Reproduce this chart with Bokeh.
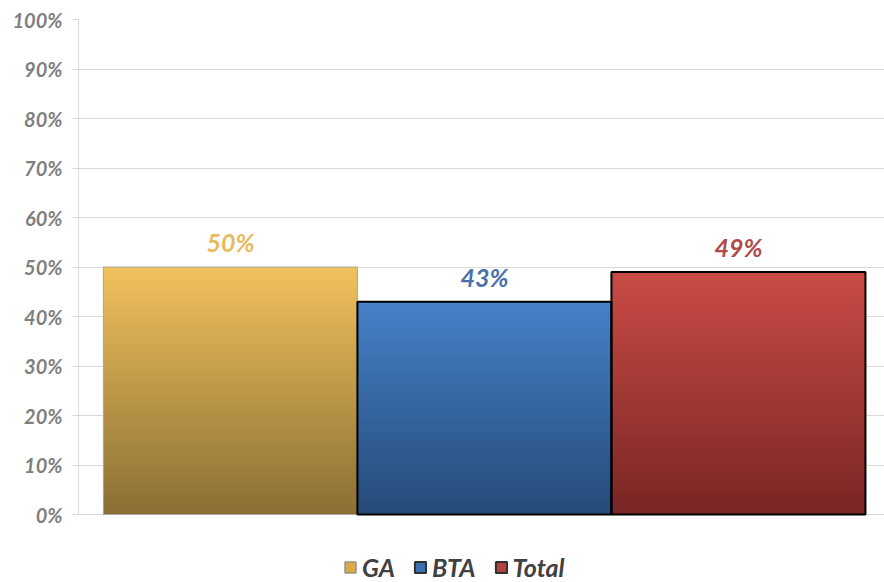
from bokeh.plotting import figure
from bokeh.models import ColumnDataSource, Legend, LegendItem, PrintfTickFormatter, FixedTicker
from bokeh.core.properties import value
from bokeh.embed import file_html
from bokeh.resources import INLINE

# ---- data ----
series = ["GA", "BTA", "Total"]
values = [50, 43, 49]
label_texts = ["50%", "43%", "49%"]
y_ticks = [0, 10, 20, 30, 40, 50, 60, 70, 80, 90, 100]

# ---- style ----
top_colors = [(241, 193, 92), (70, 129, 200), (202, 75, 70)]
bottom_colors = [(138, 111, 52), (37, 74, 120), (120, 38, 36)]
mid_colors = ["#D9A94C", "#3A6FB0", "#B5403C"]
outline_colors = ["#A6A6A6", "#000000", "#000000"]
outline_widths = [1, 2, 2]
label_colors = ["#E8BA5E", "#4A72A8", "#B04A48"]
FONT = "Lato"
X0, X1 = -0.598, 2.575
Y0 = -68 / 4.95   # extra room below 0 for the legend

p = figure(frame_width=806, frame_height=563, output_backend="svg", toolbar_location=None,
           x_range=(X0, X1), y_range=(Y0, 100),
           min_border_left=78, min_border_right=0, min_border_top=19, min_border_bottom=0)
p.outline_line_color = None
p.background_fill_color = "white"

xs = list(range(len(series)))

# gradient bars built as thin overlapping slices
n = 90
sx, sb, st, sc = [], [], [], []
for i, v in enumerate(values):
    for k in range(n):
        t = (k + 0.5) / n
        c = tuple(int(round(bottom_colors[i][j] + (top_colors[i][j] - bottom_colors[i][j]) * t)) for j in range(3))
        sx.append(xs[i])
        sb.append(v * k / n)
        st.append(min(v, v * (k + 1.8) / n))
        sc.append("#%02x%02x%02x" % c)
p.vbar(x=sx, bottom=sb, top=st, width=1.0, fill_color=sc, line_color=None)

# outlines
p.vbar(x=xs, top=values, width=1.0, fill_color=None,
       line_color=outline_colors, line_width=outline_widths)

# value labels
p.text(x=xs, y=values, text=label_texts, text_color=label_colors,
       text_font=value(FONT), text_font_style="bold italic", text_font_size="25px",
       text_align="center", text_baseline="middle", y_offset=-25)

# axes
p.xaxis.visible = False
p.xgrid.visible = False

p.yaxis.ticker = FixedTicker(ticks=y_ticks)
p.yaxis.bounds = (0, 100)
p.yaxis.formatter = PrintfTickFormatter(format="%d%%")
p.yaxis.major_label_text_font = FONT
p.yaxis.major_label_text_font_style = "bold italic"
p.yaxis.major_label_text_font_size = "20px"
p.yaxis.major_label_text_color = "#7F7F7F"
p.yaxis.axis_line_color = "#D9D9D9"
p.yaxis.major_tick_line_color = "#D9D9D9"
p.yaxis.major_tick_out = 6
p.yaxis.major_tick_in = 0
p.yaxis.minor_tick_line_color = None
p.yaxis.major_label_standoff = 10
p.ygrid.grid_line_color = "#D9D9D9"

# legend (proxy renderers with a single non-drawn quad)
items = []
nan = float("nan")
for i, s in enumerate(series):
    src = ColumnDataSource(data=dict(l=[nan], r=[nan], b=[nan], t=[nan]))
    r = p.quad(left="l", right="r", bottom="b", top="t", source=src, fill_color=mid_colors[i],
               line_color="#303030" if i else "#808080", line_width=2 if i else 1)
    items.append(LegendItem(label=s, renderers=[r]))
legend = Legend(items=items, orientation="horizontal", location=(265, 0),
                label_text_font=FONT, label_text_font_style="bold italic",
                label_text_font_size="25px", label_text_color="#404040",
                glyph_width=14, glyph_height=14, spacing=18, label_standoff=5,
                border_line_color=None, background_fill_alpha=0, padding=0, margin=0)
p.add_layout(legend, "center")

open("out.html", "w").write(file_html(p, INLINE))
